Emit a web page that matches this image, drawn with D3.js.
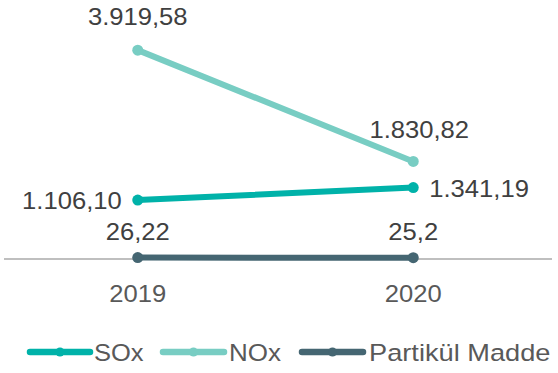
<!DOCTYPE html>
<html>
<head>
<meta charset="utf-8">
<script src="https://cdn.jsdelivr.net/npm/d3@7"></script>
<style>
  html, body { margin: 0; padding: 0; background: #ffffff; }
  svg { display: block; }
  text { font-family: "Liberation Sans", Arial, Helvetica, sans-serif; }
</style>
</head>
<body>
<svg id="chart" width="558" height="373"></svg>
<script>
// Emission values per year
const years = ["2019", "2020"];
const soxValues = [1106.10, 1341.19];
const noxValues = [3919.58, 1830.82];
const pmValues = [26.22, 25.2];
const soxLabels = ["1.106,10", "1.341,19"];
const noxLabels = ["3.919,58", "1.830,82"];
const pmLabels = ["26,22", "25,2"];
const seriesNames = ["SOx", "NOx", "Partikül Madde"];

const colors = { SOx: "#00b2a9", NOx: "#78cdc3", PM: "#456672" };

const series = [
  { key: "SOx", name: seriesNames[0], values: soxValues, labels: soxLabels, color: colors.SOx },
  { key: "NOx", name: seriesNames[1], values: noxValues, labels: noxLabels, color: colors.NOx },
  { key: "PM",  name: seriesNames[2], values: pmValues,  labels: pmLabels,  color: colors.PM }
];

const FONT = 23.5;   // glyph height
const WIDEN = 1.09;  // slightly wide lettering

const svg = d3.select("#chart");

// place a text whose letters are widened horizontally around its anchor point
function wideText(parent, x, y, str, anchor, fill, size, widen) {
  return parent.append("text")
    .attr("transform", `translate(${x},${y}) scale(${widen || WIDEN},1)`)
    .attr("text-anchor", anchor)
    .attr("fill", fill)
    .style("font-size", (size || FONT) + "px")
    .text(str);
}

const x = d3.scaleBand().domain(years).range([0, 551]);
const cx = d => x(d) + x.bandwidth() / 2;
const y = d3.scaleLinear().domain([0, 4500]).range([259, 19.2]);

// horizontal category axis at zero
svg.append("line")
  .attr("x1", 4).attr("x2", 552)
  .attr("y1", y(0)).attr("y2", y(0))
  .attr("stroke", "#bfbfbf").attr("stroke-width", 2);

const xAxis = d3.axisBottom(x).tickSize(0).tickPadding(0);
const gx = svg.append("g").attr("transform", `translate(0,${y(0)})`).call(xAxis);
gx.select(".domain").remove();
gx.selectAll("text")
  .attr("dy", null)
  .attr("y", null)
  .attr("transform", `translate(0,43) scale(${WIDEN},1)`)
  .attr("fill", "#595959")
  .attr("font-family", null)
  .attr("font-size", null)
  .style("font-size", FONT + "px");

const line = d3.line().x((d, i) => cx(years[i])).y(d => y(d));

// lines, then markers
series.forEach(s => {
  svg.append("path")
    .datum(s.values)
    .attr("d", line)
    .attr("fill", "none")
    .attr("stroke", s.color)
    .attr("stroke-width", 6)
    .attr("stroke-linecap", "round");
  svg.selectAll(null)
    .data(s.values)
    .enter().append("circle")
    .attr("cx", (d, i) => cx(years[i]))
    .attr("cy", d => y(d))
    .attr("r", 5.5)
    .attr("fill", s.color);
});

// data labels
const labelPos = {
  SOx: [ { anchor: "end", dx: -16, dy: 9 }, { anchor: "start", dx: 16, dy: 9 } ],
  NOx: [ { anchor: "middle", dx: 0, dy: -25 }, { anchor: "middle", dx: 6, dy: -23 } ],
  PM:  [ { anchor: "middle", dx: 0, dy: -18 }, { anchor: "middle", dx: 0, dy: -18 } ]
};
series.forEach(s => {
  s.values.forEach((v, i) => {
    const p = labelPos[s.key][i];
    wideText(svg, cx(years[i]) + p.dx, y(v) + p.dy, s.labels[i], p.anchor, "#404040");
  });
});

// legend
const legendItems = [
  { s: series[0], x0: 30, x1: 90, tx: 94, w: 1.05 },
  { s: series[1], x0: 163, x1: 224, tx: 229, w: 1.07 },
  { s: series[2], x0: 302, x1: 363, tx: 369, w: 1.12 }
];
const ly = 352;
legendItems.forEach(it => {
  svg.append("line")
    .attr("x1", it.x0).attr("x2", it.x1)
    .attr("y1", ly).attr("y2", ly)
    .attr("stroke", it.s.color).attr("stroke-width", 6.5)
    .attr("stroke-linecap", "round");
  svg.append("circle")
    .attr("cx", (it.x0 + it.x1) / 2).attr("cy", ly)
    .attr("r", 4.5).attr("fill", it.s.color);
  wideText(svg, it.tx, ly + 9, it.s.name, "start", "#595959", 24.3, it.w);
});
</script>
</body>
</html>
